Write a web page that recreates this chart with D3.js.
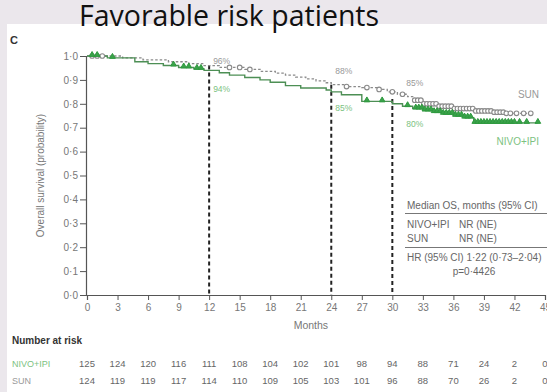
<!DOCTYPE html>
<html><head><meta charset="utf-8">
<script src="https://cdn.jsdelivr.net/npm/d3@7/dist/d3.min.js"></script>
<style>
html,body{margin:0;padding:0;background:#ebe7ec;}
svg{display:block;}
</style></head>
<body>
<svg id="chart" width="547" height="392"></svg>
<script>
// ---------- data ----------
const xTicks = [0,3,6,9,12,15,18,21,24,27,30,33,36,39,42,45];
const yTicks = [0,0.1,0.2,0.3,0.4,0.5,0.6,0.7,0.8,0.9,1.0];

// Kaplan-Meier steps (month, survival)
const nivoTimes = [0,2,4.7,6,7.5,9,10.5,11.5,13,14,15.5,17,18,19.5,21,23.5,24,25,27,30,31,32,33,34,35,36,37,38,44.3];
const nivoSurv  = [1.0,0.992,0.976,0.968,0.96,0.952,0.946,0.94,0.93,0.92,0.91,0.9,0.89,0.876,0.866,0.858,0.85,0.838,0.81,0.80,0.79,0.78,0.772,0.765,0.758,0.75,0.742,0.72,0.72];
const sunTimes  = [0,3.5,5.5,8,10,11.5,13,15.5,17,18.5,19.5,20.5,21.5,22.5,23.5,24,25.5,27,28.5,29.5,30.5,31.5,32,33,34.5,36,38,40,41,43.6];
const sunSurv   = [1.0,0.992,0.984,0.976,0.968,0.96,0.952,0.944,0.936,0.928,0.92,0.912,0.904,0.896,0.888,0.88,0.872,0.868,0.86,0.85,0.84,0.83,0.815,0.80,0.79,0.78,0.77,0.765,0.76,0.76];

// censored observations (months)
const nivoCensor = [0.5,1,2.5,8.5,9.5,10,10.8,11.2,27.5,29,31.5,32.3,32.6,32.9,33.2,33.5,33.8,34.1,34.4,34.7,35,35.3,35.6,35.9,36.2,36.5,36.8,37.1,37.4,37.7,38.1,38.4,38.7,39,39.3,39.6,39.9,40.2,40.5,40.8,41.1,41.4,41.7,42,42.5,43.2,44.3];
const sunCensor  = [0.5,1,1.5,14,15,16,25.5,27.5,28.7,30,31,32.2,32.5,32.8,33.1,33.4,33.7,34,34.3,34.6,34.9,35.2,35.5,35.8,36.1,36.4,36.7,37,37.3,37.6,37.9,38.2,38.5,38.8,39.1,39.4,39.7,40,40.3,40.6,40.9,41.2,41.6,42.2,42.9,43.6];

// landmark lines
const landmarkMonths = [12,24,30];
const landmarkTop = [0.96,0.88,0.82];
const sunLandmarkLabels = ["96%","88%","85%"];
const sunLabelVals = [0.965,0.925,0.875];
const nivoLandmarkLabels = ["94%","85%","80%"];
const nivoLabelVals = [0.85,0.77,0.703];
const labelShift = [4,4,14];

// numbers at risk
const riskGroups = ["NIVO+IPI","SUN"];
const nivoRisk = [125,124,120,116,111,108,104,102,101,98,94,88,71,24,2,0];
const sunRisk  = [124,119,119,117,114,110,109,105,103,101,96,88,70,26,2,0];

const tableRows = [["NIVO+IPI","NR (NE)"],["SUN","NR (NE)"]];

// ---------- drawing ----------
const svg = d3.select("#chart");
const W = 547, H = 392;
const grey = "#8a8a8a", greenLight = "#7cc27f";

svg.append("rect").attr("x",7).attr("y",24).attr("width",W-7).attr("height",H-24).attr("fill","#fff");

svg.append("text").attr("x",79).attr("y",26).attr("font-family","'Open Sans', sans-serif")
  .attr("font-size",28.5).attr("fill","#111").text("Favorable risk patients");

svg.append("text").attr("x",10).attr("y",44).attr("font-family","'Liberation Sans', Arial, sans-serif")
  .attr("font-weight","bold").attr("font-size",11).attr("fill","#333").text("C");

const x = d3.scaleLinear().domain([0,45]).range([87,545]);
const y = d3.scaleLinear().domain([0,1]).range([295,56]);
const dotFmt = d => d3.format(".1f")(d).replace(".","·");

const font = "'Liberation Sans', Arial, sans-serif";

// y axis
const yAxis = svg.append("g").attr("transform",`translate(${x(0)-1},0)`)
  .call(d3.axisLeft(y).tickValues(yTicks).tickFormat(dotFmt).tickSize(6).tickPadding(2));
// x axis
const xAxis = svg.append("g").attr("transform",`translate(0,${y(0)})`)
  .call(d3.axisBottom(x).tickValues(xTicks).tickSize(5).tickPadding(4));
[yAxis,xAxis].forEach(a=>{
  a.select(".domain").attr("stroke","#555").attr("stroke-width",1.2);
  a.selectAll(".tick line").attr("stroke","#555");
  a.selectAll("text").attr("font-family",font).attr("font-size",10).attr("fill","#777");
});

svg.append("text").attr("transform",`translate(44,${(y(0)+y(1))/2}) rotate(-90)`)
  .attr("text-anchor","middle").attr("font-family",font).attr("font-size",10).attr("fill","#777")
  .text("Overall survival (probability)");
svg.append("text").attr("x",x(22)).attr("y",329).attr("text-anchor","middle")
  .attr("font-family",font).attr("font-size",10.5).attr("fill","#777").text("Months");

// landmark dashed lines
landmarkMonths.forEach((m,i)=>{
  svg.append("line").attr("x1",x(m)).attr("x2",x(m)).attr("y1",y(landmarkTop[i])).attr("y2",y(0))
    .attr("stroke","#222").attr("stroke-width",2).attr("stroke-dasharray","4,3");
});

// curves
const stepLine = d3.line().x(d=>x(d[0])).y(d=>y(d[1])).curve(d3.curveStepAfter);
const sunData = sunTimes.map((t,i)=>[t,sunSurv[i]]);
const nivoData = nivoTimes.map((t,i)=>[t,nivoSurv[i]]);
function survAt(times, surv, t){ let v=surv[0]; for(let i=0;i<times.length;i++){ if(times[i]<=t) v=surv[i]; } return v; }

svg.append("path").attr("d",stepLine(sunData)).attr("fill","none").attr("stroke",grey)
  .attr("stroke-width",1.3).attr("stroke-dasharray","2.5,2");
svg.append("path").attr("d",stepLine(nivoData)).attr("fill","none").attr("stroke","#4d8f55")
  .attr("stroke-width",1.4);

// censor marks
svg.append("g").selectAll("circle").data(sunCensor).join("circle")
  .attr("cx",d=>x(d)).attr("cy",d=>y(survAt(sunTimes,sunSurv,d))).attr("r",2.3)
  .attr("fill","#fff").attr("stroke",grey).attr("stroke-width",1.1);
const tri = d3.symbol().type(d3.symbolTriangle).size(14);
svg.append("g").selectAll("path").data(nivoCensor).join("path")
  .attr("transform",d=>`translate(${x(d)},${y(survAt(nivoTimes,nivoSurv,d))-1.2})`).attr("d",tri)
  .attr("fill","#3aa24a").attr("stroke","#2f9a3f").attr("stroke-width",1);

// landmark labels
landmarkMonths.forEach((m,i)=>{
  svg.append("text").attr("x",x(m)+labelShift[i]).attr("y",y(sunLabelVals[i])).attr("font-family",font)
    .attr("font-size",8.5).attr("fill","#999").text(sunLandmarkLabels[i]);
  svg.append("text").attr("x",x(m)+labelShift[i]).attr("y",y(nivoLabelVals[i])).attr("font-family",font)
    .attr("font-size",8.5).attr("fill",greenLight).text(nivoLandmarkLabels[i]);
});
svg.append("text").attr("x",539).attr("y",98).attr("text-anchor","end").attr("font-family",font)
  .attr("font-size",10).attr("fill","#999").text("SUN");
svg.append("text").attr("x",539).attr("y",145).attr("text-anchor","end").attr("font-family",font)
  .attr("font-size",10).attr("fill",greenLight).text("NIVO+IPI");

// median OS box
const tx = 407, fs = 10;
svg.append("text").attr("x",tx).attr("y",209).attr("font-family",font).attr("font-size",fs).attr("fill","#666")
  .text("Median OS, months (95% CI)");
svg.append("line").attr("x1",405).attr("x2",547).attr("y1",213.5).attr("y2",213.5).attr("stroke","#777").attr("stroke-width",1);
tableRows.forEach((r,i)=>{
  svg.append("text").attr("x",tx).attr("y",228+i*14).attr("font-family",font).attr("font-size",fs).attr("fill","#666").text(r[0]);
  svg.append("text").attr("x",459).attr("y",228+i*14).attr("font-family",font).attr("font-size",fs).attr("fill","#666").text(r[1]);
});
svg.append("line").attr("x1",405).attr("x2",547).attr("y1",247.5).attr("y2",247.5).attr("stroke","#777").attr("stroke-width",1);
svg.append("text").attr("x",tx).attr("y",261).attr("font-family",font).attr("font-size",fs).attr("fill","#666")
  .text("HR (95% CI) 1·22 (0·73–2·04)");
svg.append("text").attr("x",474).attr("y",275).attr("text-anchor","middle").attr("font-family",font).attr("font-size",fs).attr("fill","#666")
  .text("p=0·4426");

// number at risk
svg.append("text").attr("x",12).attr("y",344).attr("font-family",font).attr("font-size",10)
  .attr("font-weight","bold").attr("fill","#333").text("Number at risk");
[nivoRisk,sunRisk].forEach((row,i)=>{
  const yy = 367 + i*17;
  svg.append("text").attr("x",12).attr("y",yy).attr("font-family",font).attr("font-size",9)
    .attr("fill", i===0?greenLight:"#999").text(riskGroups[i]);
  svg.append("g").selectAll("text").data(row).join("text")
    .attr("x",(d,j)=>x(xTicks[j])).attr("y",yy).attr("text-anchor","middle")
    .attr("font-family",font).attr("font-size",9.5).attr("fill","#666").text(d=>d);
});
</script>
</body></html>
